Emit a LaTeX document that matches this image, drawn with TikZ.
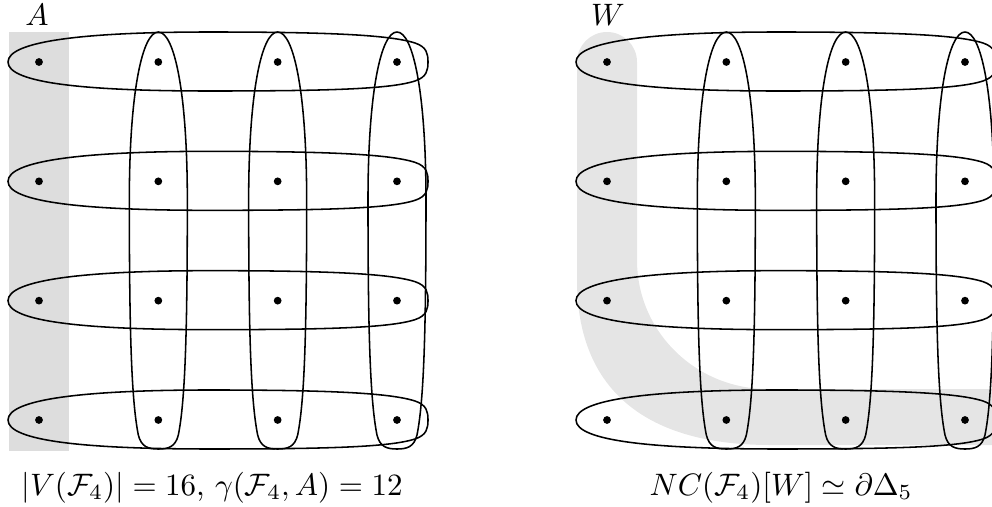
\documentclass[tikz,border=0pt]{standalone}
\usepackage{amsmath}
\definecolor{shadeA}{gray}{0.865}
\definecolor{shadeB}{gray}{0.90}
\tikzset{
  rowshape/.pic={
    \draw (8,0) .. controls (8,-21) and (85,-30) .. (210,-30)
      .. controls (330,-30) and (390,-27) .. (415,-19)
      .. controls (427,-15) and (428,-8) .. (428,0)
      .. controls (428,8) and (427,15) .. (415,19)
      .. controls (390,27) and (330,29) .. (210,29)
      .. controls (85,29) and (8,21) .. (8,0) -- cycle;
  },
  colshape/.pic={
    \draw (0,32) .. controls (-16,32) and (-29,92) .. (-29,200)
      .. controls (-29,330) and (-27,400) .. (-20,435)
      .. controls (-17,447) and (-10,449) .. (0,449)
      .. controls (10,449) and (17,447) .. (20,435)
      .. controls (27,400) and (29,330) .. (29,200)
      .. controls (29,92) and (16,32) .. (0,32) -- cycle;
  },
  dot/.style={circle,fill=black,inner sep=0pt,minimum size=2.5pt}
}
\begin{document}
\begin{tikzpicture}[x=0.32258pt,y=-0.32258pt,line width=0.5pt]
\clip (0,0) rectangle (992,507);
% shaded regions
\fill[shadeA] (9,32) rectangle (69,451);
\fill[shadeB] (577,62) .. controls (577,45.4) and (590.4,32) .. (607,32)
  .. controls (623.6,32) and (637,45.4) .. (637,62) -- (637,260)
  .. controls (637,332) and (696,389) .. (768,389) -- (1000,389)
  -- (1000,445) -- (770,445) .. controls (640,445) and (577,385) .. (577,280) -- cycle;
% hyperedges
\foreach \j in {0,...,3} {
  \pic at (0,{62+119.33*\j}) {rowshape};
  \pic at (568,{62+119.33*\j}) {rowshape};
}
\foreach \i in {1,2,3} {
  \pic at ({39+119.33*\i},0) {colshape};
  \pic at ({607+119.33*\i},0) {colshape};
}
% vertices
\foreach \i in {0,...,3} {
  \foreach \j in {0,...,3} {
    \node[dot] (L\i\j) at ({39+119.33*\i},{62+119.33*\j}) {};
    \node[dot] (R\i\j) at ({607+119.33*\i},{62+119.33*\j}) {};
  }
}
\node[anchor=base] (labA) at (37,25) {$A$};
\node[anchor=base] (labW) at (608,25) {$W$};
\node[anchor=base] (capL) at (212,495) {$|V(\mathcal{F}_4)|=16$, $\gamma(\mathcal{F}_4,A)=12$};
\node[anchor=base] (capR) at (781,495) {$NC(\mathcal{F}_4)[W]\simeq\partial\Delta_5$};
\end{tikzpicture}
\end{document}
